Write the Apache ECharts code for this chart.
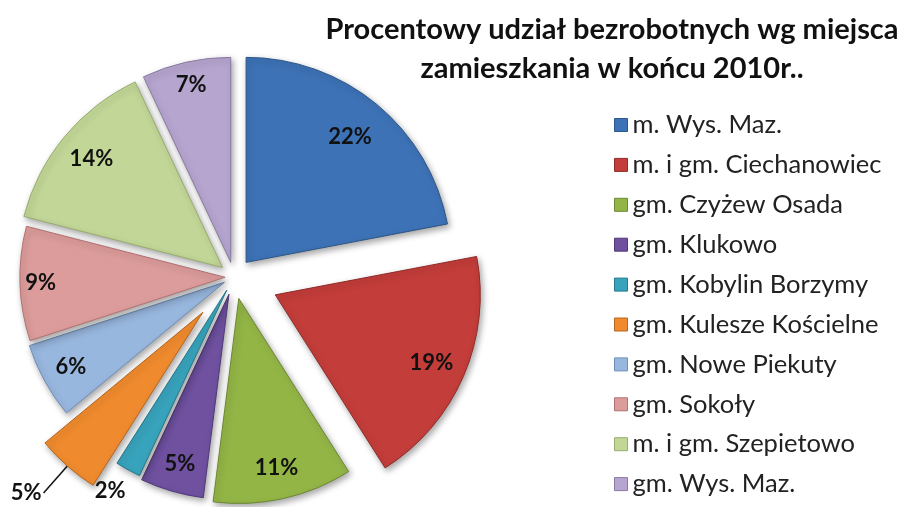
<!DOCTYPE html>
<html>
<head>
<meta charset="utf-8">
<script src="https://cdn.jsdelivr.net/npm/echarts@6/dist/echarts.min.js"></script>
<style>
html, body { margin: 0; padding: 0; background: #fff; }
#chart { width: 900px; height: 507px; }
</style>
</head>
<body>
<div id="chart"></div>
<script>
// dane (udział w %)
var names = ['m. Wys. Maz.', 'm. i gm. Ciechanowiec', 'gm. Czyżew Osada', 'gm. Klukowo',
    'gm. Kobylin Borzymy', 'gm. Kulesze Kościelne', 'gm. Nowe Piekuty', 'gm. Sokoły',
    'm. i gm. Szepietowo', 'gm. Wys. Maz.'];
var values = [22, 19, 11, 5, 2, 5, 6, 9, 14, 7];

// wygląd wycinków
var colors = ['#3d72b6', '#c33d3a', '#93b546', '#6f51a0', '#38a3bc', '#ef8a2e',
    '#98b7de', '#dc9c9b', '#c2d697', '#b6a5cf'];
var edges = ['#2c5687', '#8f2b29', '#6c8733', '#513a78', '#27798b', '#b6661f',
    '#6f8fb8', '#b27372', '#98ad6e', '#8a7aa3'];
var offsets = [19, 45, 22, 18, 15, 47, 11, 9, 15, 15];
// wewnętrzny promień pierścienia etykiet (część promienia)
var labelRing = [0.56, 0.63, 0.66, 0.69, 0.64, 0.64, 0.68, 0.77, 0.63, 0.74];

var center = [234, 277];
var R = 205;
var font = 'Lato, "Open Sans", sans-serif';

var chart = echarts.init(document.getElementById('chart'));

function sliceData(k, forLabel) {
    return values.map(function (v, j) {
        var item = { name: names[j], value: v };
        if (j === k) {
            item.selected = true;
            if (!forLabel) {
                item.itemStyle = {
                    color: colors[j], borderColor: edges[j], borderWidth: 1,
                    shadowBlur: 6, shadowOffsetX: 2, shadowOffsetY: 3,
                    shadowColor: 'rgba(0,0,0,0.35)'
                };
            } else {
                item.itemStyle = { color: 'rgba(0,0,0,0)' };
            }
        } else {
            item.itemStyle = { color: 'rgba(0,0,0,0)', borderWidth: 0 };
            item.label = { show: false };
            item.labelLine = { show: false };
        }
        return item;
    });
}

var series = [];
var outside = { 4: { length: 22, line: false }, 5: { length: 36, line: true } };

for (var k = 0; k < values.length; k++) {
    var out = outside[k];
    // wycinek
    series.push({
        type: 'pie',
        center: center,
        radius: [0, R],
        startAngle: 90,
        clockwise: true,
        selectedMode: 'multiple',
        selectedOffset: offsets[k],
        avoidLabelOverlap: false,
        silent: true,
        animation: false,
        label: out ? {
            show: true, position: 'outside', formatter: '{c}%',
            fontFamily: font, fontSize: 22, fontWeight: 'bold', color: '#111',
            distanceToLabelLine: 2
        } : { show: false },
        labelLine: out ? {
            show: out.line, length: out.length, length2: 0,
            lineStyle: { color: '#111', width: 1.5 }
        } : { show: false },
        labelLayout: k === 4 ? { dx: 10, dy: 2 } : null,
        data: sliceData(k, false)
    });
    // etykieta wewnątrz
    if (!out) {
        series.push({
            type: 'pie',
            center: center,
            radius: [R * labelRing[k], R],
            startAngle: 90,
            clockwise: true,
            selectedMode: 'multiple',
            selectedOffset: offsets[k],
            avoidLabelOverlap: false,
            silent: true,
            animation: false,
            label: {
                show: true, position: 'inside', formatter: '{c}%',
                fontFamily: font, fontSize: 22, fontWeight: 'bold', color: '#111'
            },
            labelLine: { show: false },
            data: sliceData(k, true)
        });
    }
}

var option = {
    backgroundColor: '#fff',
    title: {
        text: 'Procentowy udział bezrobotnych wg miejsca\nzamieszkania w końcu 2010r..',
        left: 607,
        top: 5,
        textAlign: 'center',
        textStyle: {
            fontFamily: font, fontSize: 29, fontWeight: 'bold', color: '#111',
            lineHeight: 39
        }
    },
    legend: {
        orient: 'vertical',
        left: 609,
        top: 107,
        bottom: 0,
        icon: 'rect',
        itemWidth: 13,
        itemHeight: 13,
        itemGap: 13.9,
        selectedMode: false,
        textStyle: { fontFamily: font, fontSize: 25.5, color: '#222', lineHeight: 24 },
        data: names.map(function (n, j) {
            return { name: n, itemStyle: { color: colors[j], borderColor: edges[j], borderWidth: 1 } };
        })
    },
    series: series
};

chart.setOption(option);
</script>
</body>
</html>
